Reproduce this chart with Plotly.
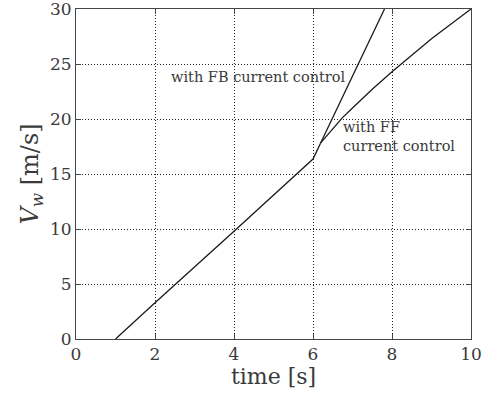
import plotly.graph_objects as go

# Wind speed ramp, shared part (both controllers follow it up to ~6.2 s)
t_common = [1.0, 2.0, 4.0, 6.0, 6.19]
v_common = [0.0, 3.3, 9.8, 16.36, 17.8]

# Feedback current control branch
t_fb = [6.19, 7.81]
v_fb = [17.8, 30.0]

# Feed-forward current control branch
t_ff = [6.19, 6.4, 6.74, 7.0, 7.5, 8.0, 9.0, 10.0]
v_ff = [17.8, 18.7, 20.1, 21.0, 22.7, 24.3, 27.3, 30.0]

x_ticks = [0, 2, 4, 6, 8, 10]
y_ticks = [0, 5, 10, 15, 20, 25, 30]

line_color = "#1a1a1a"
text_color = "#3a3a3a"
serif = "DejaVu Serif"

fig = go.Figure()
for tx, vy in [(t_common, v_common), (t_fb, v_fb), (t_ff, v_ff)]:
    fig.add_trace(go.Scatter(x=tx, y=vy, mode="lines",
                             line=dict(color=line_color, width=1.3),
                             showlegend=False, hoverinfo="skip"))

fig.add_annotation(x=2.35, y=23.8, text="with FB current control",
                   xanchor="left", yanchor="middle", showarrow=False,
                   font=dict(family=serif, size=14.5, color=text_color))
fig.add_annotation(x=6.72, y=18.4, text="with FF<br>current control",
                   xanchor="left", yanchor="middle", align="left", showarrow=False,
                   font=dict(family=serif, size=14.5, color=text_color))

axis_common = dict(
    showgrid=True, gridcolor="#222222", griddash="1px,2px", gridwidth=1,
    showline=True, linecolor="#444444", linewidth=1, mirror="allticks",
    ticks="inside", ticklen=5, tickcolor="#444444",
    tickfont=dict(family=serif, size=17, color=text_color),
    ticklabeloverflow="allow", automargin=False,
    zeroline=False,
)

fig.update_xaxes(range=[0, 10], tickvals=x_ticks,
                 title=dict(text="time [s]", standoff=0,
                            font=dict(family=serif, size=22, color=text_color)),
                 **axis_common)
fig.update_yaxes(range=[0, 30], tickvals=y_ticks,
                 title=dict(text="<i>V<sub>w</sub></i> [m/s]", standoff=4,
                            font=dict(family=serif, size=24, color=text_color)),
                 **axis_common)

fig.update_layout(
    width=484, height=396,
    margin=dict(l=76, r=13, t=9, b=57),
    paper_bgcolor="white", plot_bgcolor="white",
    font=dict(family=serif),
)

fig.write_html("out.html")
